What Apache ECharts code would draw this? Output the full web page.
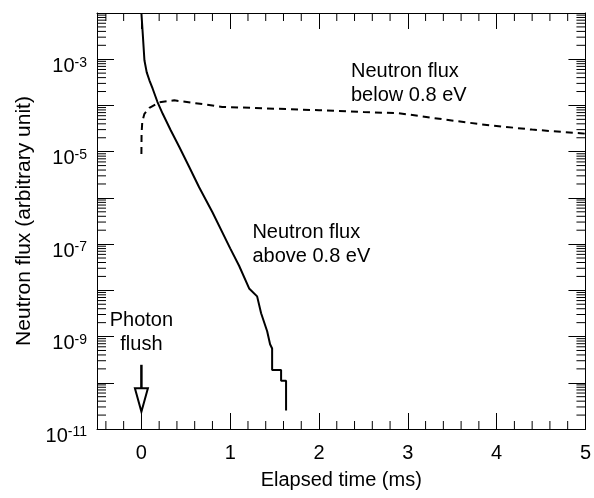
<!DOCTYPE html>
<html><head><meta charset="utf-8">
<script src="https://cdn.jsdelivr.net/npm/echarts@6/dist/echarts.min.js"></script>
<style>html,body{margin:0;padding:0;background:#fff}#c{width:594px;height:498px}</style>
</head><body><div id="c"></div>
<script>
// ---- axis ranges & ticks ----
const xRange = [-0.5, 5];
const yRange = [1e-11, 1e-2];
const xMinorTicks = [-0.4, -0.2, 0.2, 0.4, 0.6, 0.8, 1.2, 1.4, 1.6, 1.8, 2.2, 2.4, 2.6, 2.8,
                     3.2, 3.4, 3.6, 3.8, 4.2, 4.4, 4.6, 4.8];
const yDecades = [-11, -10, -9, -8, -7, -6, -5, -4, -3];
const yMinorMultipliers = [2, 3, 4, 5, 6, 7, 8, 9];

// ---- series: neutron flux above 0.8 eV (solid) ----
const fastTime = [0, 0.015, 0.034, 0.06, 0.09, 0.127, 0.18, 0.24, 0.33, 0.427, 0.54, 0.65,
                  0.8, 1.0, 1.1, 1.213, 1.303, 1.348, 1.416, 1.449, 1.472, 1.472, 1.573, 1.573, 1.629, 1.629];
const fastFlux = [1e-2, 3.6e-3, 9.5e-4, 5.2e-4, 3.5e-4, 2.3e-4, 1.2e-4, 6.6e-5, 2.9e-5, 1.26e-5, 4.6e-6, 1.7e-6,
                  4.9e-7, 8.1e-8, 3.4e-8, 1.1e-8, 7.4e-9, 3.2e-9, 1.3e-9, 6.8e-10, 5.5e-10, 1.9e-10, 1.9e-10,
                  1.1e-10, 1.1e-10, 2.5e-11];
// ---- series: neutron flux below 0.8 eV (dashed) ----
const slowTime = [0, 0.002, 0.01, 0.034, 0.09, 0.2, 0.37, 0.61, 0.91, 1.5, 2.0, 2.5, 2.9, 3.4, 3.83, 4.4, 4.94, 5];
const slowFlux = [8.9e-6, 2.5e-5, 4.5e-5, 6.6e-5, 8.9e-5, 1.17e-4, 1.29e-4, 1.12e-4, 9.3e-5, 8.5e-5, 7.9e-5,
                  7.2e-5, 6.8e-5, 5.0e-5, 3.9e-5, 3.0e-5, 2.5e-5, 2.45e-5];

// ---- annotations ----
const noteText = ['Neutron flux\nbelow 0.8 eV', 'Neutron flux\nabove 0.8 eV', 'Photon\nflush'];
const noteX = [2.36, 1.25, 0];
const noteY = [3.0e-4, 1e-7, 1.23e-9];
const noteAlign = ['left', 'left', 'center'];
const arrowX = 0;
const arrowFrom = 2.45e-10, arrowHeadBase = 7.6e-11, arrowTip = 2.35e-11;

const FONT = 'Liberation Sans, Arial, sans-serif';
const fastData = fastTime.map((t, i) => [t, fastFlux[i]]);
const slowData = slowTime.map((t, i) => [t, slowFlux[i]]);
const yMinorTicks = [];
yDecades.forEach(d => yMinorMultipliers.forEach(m => yMinorTicks.push(m * Math.pow(10, d))));

const chart = echarts.init(document.getElementById('c'), null, {renderer: 'canvas'});
const axisLineStyle = {color: '#000', width: 1};
chart.setOption({
  animation: false,
  backgroundColor: '#fff',
  grid: {left: 97, right: 6, top: 13, bottom: 69, containLabel: false},
  xAxis: [{
    type: 'value', min: xRange[0], max: xRange[1], splitNumber: 5,
    name: 'Elapsed time (ms)', nameLocation: 'middle', nameGap: 41,
    nameTextStyle: {fontFamily: FONT, fontSize: 20, color: '#000'},
    axisLine: {show: true, onZero: false, lineStyle: axisLineStyle},
    axisTick: {show: true, inside: true, length: 16, lineStyle: {color: '#000', width: 1}},
    splitLine: {show: false},
    axisLabel: {fontFamily: FONT, fontSize: 20, color: '#000', margin: 14,
      formatter: v => (Math.abs(v - Math.round(v)) < 1e-9 ? String(Math.round(v)) : '')}
  }, {
    type: 'value', position: 'top', min: xRange[0], max: xRange[1], splitNumber: 5,
    axisLine: {show: true, onZero: false, lineStyle: axisLineStyle},
    axisTick: {show: true, inside: true, length: 16, lineStyle: {color: '#000', width: 1}},
    splitLine: {show: false}, axisLabel: {show: false}
  }],
  yAxis: [{
    type: 'log', logBase: 10, min: yRange[0], max: yRange[1], splitNumber: 9,
    name: 'Neutron flux (arbitrary unit)', nameLocation: 'middle', nameGap: 62,
    nameTextStyle: {fontFamily: FONT, fontSize: 21, color: '#000'},
    axisLine: {show: true, onZero: false, lineStyle: axisLineStyle},
    axisTick: {show: true, inside: true, length: 17, interval: 0, lineStyle: {color: '#000', width: 1}},
    splitLine: {show: false},
    axisLabel: {
      interval: 0, margin: 10, color: '#000', padding: [14, 0, 0, 0],
      formatter: v => {
        const e = Math.round(Math.log10(v));
        return (Math.abs(e) % 2 === 1) ? '{b|10}{s|' + e + '}' : '';
      },
      rich: {
        b: {fontFamily: FONT, fontSize: 20, lineHeight: 21, color: '#000'},
        s: {fontFamily: FONT, fontSize: 14, lineHeight: 7, verticalAlign: 'top', color: '#000'}
      }
    }
  }, {
    type: 'log', logBase: 10, position: 'right', min: yRange[0], max: yRange[1], splitNumber: 9,
    axisLine: {show: true, onZero: false, lineStyle: axisLineStyle},
    axisTick: {show: true, inside: true, length: 17, interval: 0, lineStyle: {color: '#000', width: 1}},
    splitLine: {show: false}, axisLabel: {show: false}
  }],
  series: [
    {
      type: 'custom', silent: true, xAxisIndex: 0, yAxisIndex: 0, clip: false,
      data: yMinorTicks.map(v => [0, v]),
      renderItem: (params, api) => {
        const cs = params.coordSys;
        const y = api.coord([0, api.value(1)])[1];
        return {type: 'group', children: [
          {type: 'line', shape: {x1: cs.x, y1: y, x2: cs.x + 9, y2: y}, style: {stroke: '#000', lineWidth: 1}},
          {type: 'line', shape: {x1: cs.x + cs.width - 9, y1: y, x2: cs.x + cs.width, y2: y}, style: {stroke: '#000', lineWidth: 1}}
        ]};
      }
    },
    {
      type: 'custom', silent: true, xAxisIndex: 0, yAxisIndex: 0, clip: false,
      data: xMinorTicks.map(v => [v, 1e-6]),
      renderItem: (params, api) => {
        const cs = params.coordSys;
        const x = api.coord([api.value(0), 1e-6])[0];
        return {type: 'group', children: [
          {type: 'line', shape: {x1: x, y1: cs.y + cs.height, x2: x, y2: cs.y + cs.height - 8}, style: {stroke: '#000', lineWidth: 1}},
          {type: 'line', shape: {x1: x, y1: cs.y, x2: x, y2: cs.y + 8}, style: {stroke: '#000', lineWidth: 1}}
        ]};
      }
    },
    {
      name: 'above', type: 'line', xAxisIndex: 0, yAxisIndex: 0, data: fastData,
      showSymbol: false, symbol: 'none', lineStyle: {color: '#000', width: 2}, clip: true
    },
    {
      name: 'below', type: 'line', xAxisIndex: 0, yAxisIndex: 0, data: slowData, smooth: false,
      showSymbol: false, symbol: 'none', lineStyle: {color: '#000', width: 2, type: [7, 5]}, clip: true
    },
    {
      type: 'custom', silent: true, xAxisIndex: 0, yAxisIndex: 0, clip: false,
      data: noteText.map((t, i) => [noteX[i], noteY[i], i]),
      renderItem: (params, api) => {
        const i = api.value(2);
        const p = api.coord([api.value(0), api.value(1)]);
        return {type: 'text', x: p[0], y: p[1], style: {
          text: noteText[i], font: '20px ' + FONT, fill: '#000',
          align: noteAlign[i], verticalAlign: 'middle', lineHeight: 24
        }};
      }
    },
    {
      type: 'custom', silent: true, xAxisIndex: 0, yAxisIndex: 0, clip: false,
      data: [[arrowX, arrowFrom, arrowHeadBase, arrowTip]],
      renderItem: (params, api) => {
        const x = api.coord([api.value(0), api.value(1)])[0];
        const y0 = api.coord([api.value(0), api.value(1)])[1];
        const yb = api.coord([api.value(0), api.value(2)])[1];
        const yt = api.coord([api.value(0), api.value(3)])[1];
        return {type: 'group', children: [
          {type: 'line', shape: {x1: x, y1: y0, x2: x, y2: yb}, style: {stroke: '#000', lineWidth: 2.5}},
          {type: 'polygon', shape: {points: [[x - 6.5, yb], [x + 6.5, yb], [x, yt]]},
           style: {stroke: '#000', fill: '#fff', lineWidth: 2}}
        ]};
      }
    }
  ]
});
</script>
</body></html>
